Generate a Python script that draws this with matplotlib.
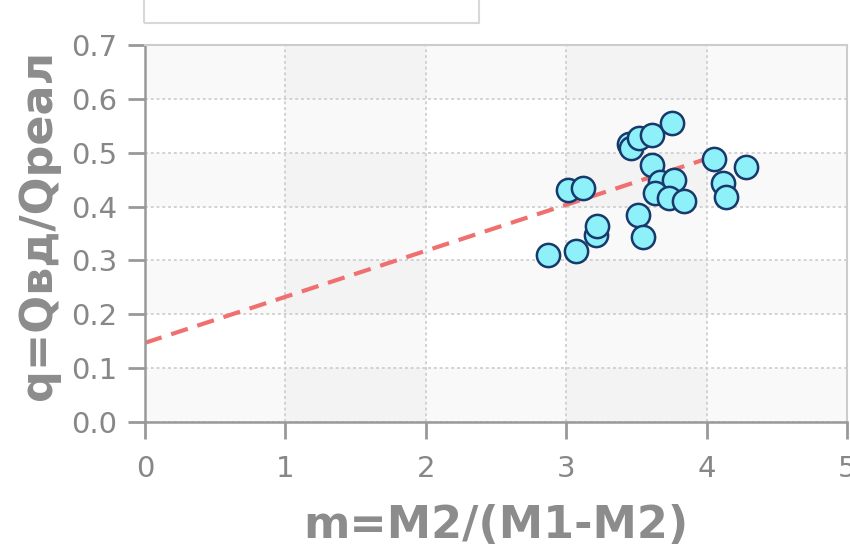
import matplotlib
matplotlib.use("Agg")
import matplotlib.pyplot as plt
from matplotlib.patches import Rectangle

# scatter data
m_vals = [2.87, 3.07, 3.21, 3.22, 3.01, 3.12, 3.51, 3.55, 3.45, 3.46, 3.52, 3.61,
          3.75, 3.61, 3.67, 3.77, 3.63, 3.73, 3.84, 4.05, 4.28, 4.12, 4.14]
q_vals = [0.310, 0.318, 0.347, 0.364, 0.431, 0.434, 0.384, 0.344, 0.517, 0.508,
          0.527, 0.533, 0.555, 0.477, 0.446, 0.449, 0.426, 0.415, 0.411, 0.488,
          0.473, 0.443, 0.418]

# trend line end points
trend_x = [0.0, 3.98]
trend_y = [0.147, 0.487]

x_ticks = [0, 1, 2, 3, 4, 5]
y_ticks = [0.0, 0.1, 0.2, 0.3, 0.4, 0.5, 0.6, 0.7]

label_col = "#8c8c8c"
tick_col = "#878787"

fig = plt.figure(figsize=(8.5, 5.51), dpi=100)
ax = fig.add_axes([145/850, 1 - 422/551, (847-145)/850, (422-45)/551])
ax.set_xlim(0, 5)
ax.set_ylim(0, 0.7)

# faint checkered background
for i in range(0, len(y_ticks) - 1, 2):
    ax.axhspan(y_ticks[i], y_ticks[i+1], color="#f9f9f9", lw=0, zorder=0)
for i in range(1, len(x_ticks) - 1, 2):
    ax.axvspan(x_ticks[i], x_ticks[i+1], color="black", alpha=0.022, lw=0, zorder=0)

ax.grid(True, color="#cfcfcf", lw=1.3, linestyle=(0, (1.6, 1.6)), zorder=1)

ax.plot(trend_x, trend_y, color="#f07070", lw=3.0, linestyle=(0, (4.2, 2.4)), zorder=2)
ax.scatter(m_vals, q_vals, s=280, facecolor="#8ef0f9", edgecolor="#17396b",
           linewidths=1.8, zorder=3)

ax.set_xticks(x_ticks)
ax.set_yticks(y_ticks)
ax.set_yticklabels(["%.1f" % v for v in y_ticks])
ax.tick_params(axis="both", labelsize=21, colors="#999999", labelcolor=tick_col,
               length=12, width=2)
ax.tick_params(axis="x", pad=12)
ax.tick_params(axis="y", pad=8)

for s in ["left", "bottom"]:
    ax.spines[s].set_color("#999999")
    ax.spines[s].set_linewidth(1.8)
for s in ["top", "right"]:
    ax.spines[s].set_color("#cccccc")
    ax.spines[s].set_linewidth(1.5)

ax.set_xlabel("m=M2/(M1-M2)", fontsize=32, fontweight="bold", color=label_col, va="center")
ax.xaxis.set_label_coords(0.5, -0.275)
ax.set_ylabel("q=Qвд/Qреал", fontsize=32, fontweight="bold", color=label_col, va="center")
ax.yaxis.set_label_coords(-0.152, 0.523)

# empty legend frame cut off at the top
fig.add_artist(Rectangle((144/850, 1 - 23/551), (479-144)/850, 0.2,
                         transform=fig.transFigure, fill=False,
                         ec="#d8d8d8", lw=1.5))

fig.savefig("out.png", dpi=100)
